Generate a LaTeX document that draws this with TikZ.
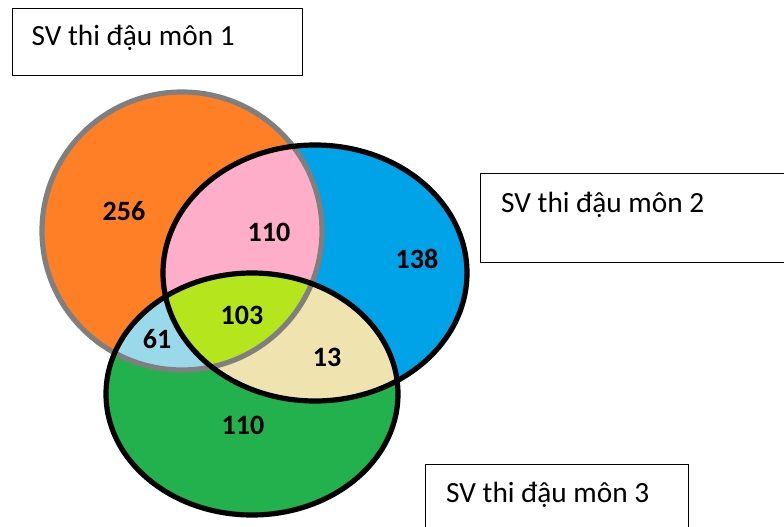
\documentclass[tikz,border=0pt]{standalone}
\usepackage{fontspec}
\setmainfont{Carlito}
\definecolor{cOrange}{HTML}{FF7F27}
\definecolor{cBlue}{HTML}{00A2E8}
\definecolor{cGreen}{HTML}{22B14C}
\definecolor{cPink}{HTML}{FFAEC9}
\definecolor{cLBlue}{HTML}{99D9EA}
\definecolor{cYG}{HTML}{B5E61D}
\definecolor{cBeige}{HTML}{EFE4B0}
\definecolor{cGray}{HTML}{7F7F7F}
\begin{document}
\begin{tikzpicture}[x=1pt,y=-1pt,
  num/.style={font=\bfseries\fontsize{28}{30}\selectfont, inner sep=0pt},
  lbl/.style={font=\fontsize{29.3}{32}\selectfont, inner sep=0pt, anchor=base west},
  box/.style={draw=black, line width=1.2pt, anchor=north west, inner sep=0pt},
  ring/.style={line width=5.2pt}]
\useasboundingbox (0,0) rectangle (784,527);
\clip (0,0) rectangle (784,527);
\def\pA{(182,231) ellipse [x radius=140pt, y radius=139pt]}
\def\pB{(315,273) ellipse [x radius=152pt, y radius=128pt]}
\def\pC{(252,394) ellipse [x radius=146pt, y radius=121pt]}
% fills
\fill[cOrange] \pA;
\fill[cBlue] \pB;
\fill[cGreen] \pC;
\begin{scope}\clip \pA; \fill[cPink] \pB; \end{scope}
\begin{scope}\clip \pA; \fill[cLBlue] \pC; \end{scope}
\begin{scope}\clip \pB; \fill[cBeige] \pC; \end{scope}
\begin{scope}\clip \pA; \clip \pB; \fill[cYG] \pC; \end{scope}
% outlines
\draw[ring, cGray] \pA;
\draw[ring, black] \pB;
\draw[ring, black] \pC;
% numbers
\node[num] (n256) at (124,211) {256};
\node[num] (n110a) at (269,232) {110};
\node[num] (n138) at (417,259) {138};
\node[num] (n103) at (242,315) {103};
\node[num] (n61) at (157,339) {61};
\node[num] (n13) at (327,357) {13};
\node[num] (n110b) at (243,425) {110};
% label boxes
\node[box, minimum width=290pt, minimum height=67pt] (b1) at (12,8) {};
\node[lbl] (t1) at (31.5,46) {SV thi đậu môn 1};
\node[box, minimum width=320pt, minimum height=89pt] (b2) at (480,173) {};
\node[lbl] (t2) at (501,212) {SV thi đậu môn 2};
\node[box, minimum width=263pt, minimum height=80pt] (b3) at (425,464) {};
\node[lbl] (t3) at (446,502) {SV thi đậu môn 3};
\end{tikzpicture}
\end{document}
